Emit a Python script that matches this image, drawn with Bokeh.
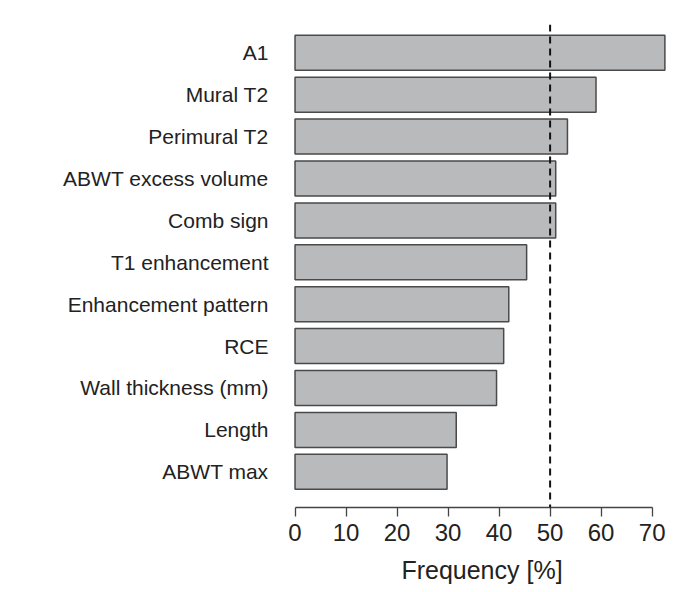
from bokeh.plotting import figure
from bokeh.models import Range1d, FixedTicker, Span, ColumnDataSource
from bokeh.embed import file_html
from bokeh.resources import INLINE

categories = ["A1", "Mural T2", "Perimural T2", "ABWT excess volume", "Comb sign",
              "T1 enhancement", "Enhancement pattern", "RCE", "Wall thickness (mm)",
              "Length", "ABWT max"]
frequency = [72.5, 59.0, 53.4, 51.1, 51.1, 45.4, 41.9, 40.9, 39.5, 31.6, 29.8]
x_ticks = [0, 10, 20, 30, 40, 50, 60, 70]
threshold = 50

n = len(categories)
ypos = [n - 1 - i for i in range(n)]
src = ColumnDataSource(dict(y=ypos, right=frequency, cat=categories))

p = figure(width=677, height=592, output_backend="svg", toolbar_location=None,
           x_range=Range1d(-0.3, 73.6), y_range=Range1d(-0.852, n - 1 + 0.675),
           min_border_left=293, min_border_right=7, min_border_top=24,
           min_border_bottom=85)

p.hbar(y="y", left=0, right="right", height=0.835, source=src,
       fill_color="#b9babc", line_color="#4a4a4a", line_width=1.5)

p.add_layout(Span(location=threshold, dimension="height", line_color="#111111",
                  line_width=2, line_dash="7 5"))

text_color = "#222222"
font = "Liberation Sans"

p.xaxis.ticker = FixedTicker(ticks=x_ticks)
p.xaxis.bounds = (0, 70)
p.xaxis.axis_label = "Frequency [%]"
p.xaxis.axis_label_text_font = font
p.xaxis.axis_label_text_font_size = "25px"
p.xaxis.axis_label_text_font_style = "normal"
p.xaxis.axis_label_text_color = text_color
p.xaxis.axis_label_standoff = 12
p.xaxis.major_label_text_font = font
p.xaxis.major_label_text_font_size = "24px"
p.xaxis.major_label_text_color = text_color
p.xaxis.major_label_standoff = 7
p.xaxis.axis_line_color = "#444444"
p.xaxis.axis_line_width = 1.3
p.xaxis.major_tick_line_color = "#444444"
p.xaxis.major_tick_line_width = 1.3
p.xaxis.major_tick_out = 9
p.xaxis.major_tick_in = 0
p.xaxis.minor_tick_line_color = None

p.yaxis.ticker = FixedTicker(ticks=ypos)
p.yaxis.major_label_overrides = {y: c for y, c in zip(ypos, categories)}
p.yaxis.major_label_text_font = font
p.yaxis.major_label_text_font_size = "21px"
p.yaxis.major_label_text_color = text_color
p.yaxis.major_label_standoff = 19
p.yaxis.axis_line_color = None
p.yaxis.major_tick_line_color = None
p.yaxis.minor_tick_line_color = None

p.xgrid.visible = False
p.ygrid.visible = False
p.outline_line_color = None
p.background_fill_color = "white"
p.border_fill_color = "white"

open("out.html", "w").write(file_html(p, INLINE))
